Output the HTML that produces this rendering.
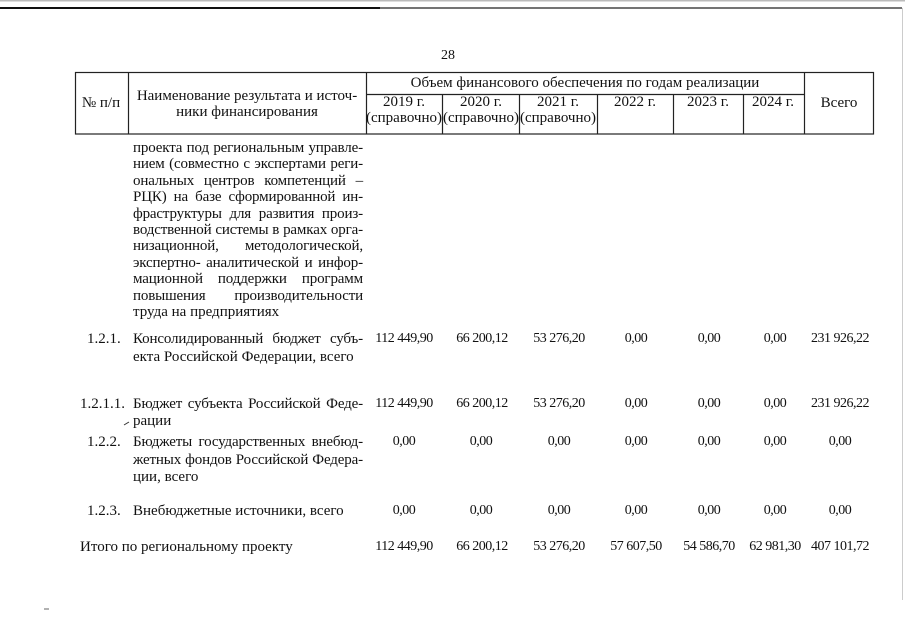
<!DOCTYPE html>
<html><head><meta charset="utf-8">
<style>
html,body{margin:0;padding:0;background:#fff;}
body{width:905px;height:639px;position:relative;overflow:hidden;font-family:"Liberation Serif","DejaVu Serif",serif;color:#111;}
.t{position:absolute;white-space:nowrap;font-size:15px;line-height:16px;}
.c{text-align:center;width:200px;}
.j{position:absolute;left:133px;width:230px;font-size:15px;line-height:16px;display:flex;justify-content:space-between;white-space:nowrap;letter-spacing:-0.15px;}
.n{position:absolute;width:100px;text-align:center;font-size:14px;letter-spacing:-0.5px;line-height:16px;white-space:nowrap;}
</style></head><body>
<svg width="905" height="639" style="position:absolute;left:0;top:0">
  <line x1="0" y1="0.5" x2="905" y2="0.5" stroke="#bbb" stroke-width="2"/>
  <line x1="0" y1="8" x2="380" y2="8" stroke="#111" stroke-width="2"/>
  <line x1="380" y1="8" x2="902" y2="8" stroke="#222" stroke-width="1.3"/>
  <line x1="902.5" y1="8" x2="902.5" y2="600" stroke="#ccc" stroke-width="1"/>
  <g stroke="#222" stroke-width="1.2" fill="none">
    <rect x="75.5" y="72.5" width="798" height="61.5"/>
    <line x1="128.5" y1="72" x2="128.5" y2="134"/>
    <line x1="366.5" y1="72" x2="366.5" y2="134"/>
    <line x1="804.5" y1="72" x2="804.5" y2="134"/>
    <line x1="366" y1="94.5" x2="804" y2="94.5"/>
    <line x1="442.5" y1="94" x2="442.5" y2="134"/>
    <line x1="519.5" y1="94" x2="519.5" y2="134"/>
    <line x1="597.5" y1="94" x2="597.5" y2="134"/>
    <line x1="673.5" y1="94" x2="673.5" y2="134"/>
    <line x1="743.5" y1="94" x2="743.5" y2="134"/>
  </g>
  <path d="M124 425 L129 422" stroke="#333" stroke-width="1"/>
  <line x1="44" y1="609" x2="49" y2="609" stroke="#666" stroke-width="1"/>
</svg>

<div class="t" style="left:441px;top:48px;font-size:14px;">28</div>

<!-- header -->
<div class="t c" style="left:1px;top:95px;">№ п/п</div>
<div class="t c" style="left:117px;top:88px;width:260px;">Наименование результата и источ-</div>
<div class="t c" style="left:117px;top:104px;width:260px;">ники финансирования</div>
<div class="t c" style="left:385px;top:75px;width:400px;">Объем финансового обеспечения по годам реализации</div>
<div class="t c" style="left:304px;top:94px;">2019 г.</div>
<div class="t c" style="left:304px;top:110px;">(справочно)</div>
<div class="t c" style="left:381px;top:94px;">2020 г.</div>
<div class="t c" style="left:381px;top:110px;">(справочно)</div>
<div class="t c" style="left:458px;top:94px;">2021 г.</div>
<div class="t c" style="left:458px;top:110px;">(справочно)</div>
<div class="t c" style="left:535px;top:94px;">2022 г.</div>
<div class="t c" style="left:608px;top:94px;">2023 г.</div>
<div class="t c" style="left:673px;top:94px;">2024 г.</div>
<div class="t c" style="left:739px;top:95px;">Всего</div>

<!-- description -->
<div class="j" style="top:140px;"><span>проекта</span><span>под</span><span>региональным</span><span>управле-</span></div>
<div class="j" style="top:156.4px;"><span>нием</span><span>(совместно</span><span>с</span><span>экспертами</span><span>реги-</span></div>
<div class="j" style="top:172.8px;"><span>ональных</span><span>центров</span><span>компетенций</span><span>–</span></div>
<div class="j" style="top:189.2px;"><span>РЦК)</span><span>на</span><span>базе</span><span>сформированной</span><span>ин-</span></div>
<div class="j" style="top:205.6px;"><span>фраструктуры</span><span>для</span><span>развития</span><span>произ-</span></div>
<div class="j" style="top:222px;"><span>водственной</span><span>системы</span><span>в</span><span>рамках</span><span>орга-</span></div>
<div class="j" style="top:238.4px;"><span>низационной,</span><span>методологической,</span></div>
<div class="j" style="top:254.8px;"><span>экспертно-</span><span>аналитической</span><span>и</span><span>инфор-</span></div>
<div class="j" style="top:271.2px;"><span>мационной</span><span>поддержки</span><span>программ</span></div>
<div class="j" style="top:287.6px;"><span>повышения</span><span>производительности</span></div>
<div class="t" style="left:133px;top:304px;">труда на предприятиях</div>

<!-- 1.2.1 -->
<div class="t" style="left:87px;top:331px;">1.2.1.</div>
<div class="j" style="top:331px;"><span>Консолидированный</span><span>бюджет</span><span>субъ-</span></div>
<div class="t" style="left:133px;top:349px;">екта Российской Федерации, всего</div>

<!-- 1.2.1.1 -->
<div class="t" style="left:80px;top:396px;">1.2.1.1.</div>
<div class="j" style="top:396px;"><span>Бюджет</span><span>субъекта</span><span>Российской</span><span>Феде-</span></div>
<div class="t" style="left:133px;top:413px;">рации</div>

<!-- 1.2.2 -->
<div class="t" style="left:87px;top:434px;">1.2.2.</div>
<div class="j" style="top:434px;"><span>Бюджеты</span><span>государственных</span><span>внебюд-</span></div>
<div class="j" style="top:452px;"><span>жетных</span><span>фондов</span><span>Российской</span><span>Федера-</span></div>
<div class="t" style="left:133px;top:469px;">ции, всего</div>

<!-- 1.2.3 -->
<div class="t" style="left:87px;top:503px;">1.2.3.</div>
<div class="t" style="left:133px;top:503px;">Внебюджетные источники, всего</div>

<!-- total -->
<div class="t" style="left:80px;top:539px;">Итого по региональному проекту</div>

<!-- numbers row 1.2.1 (y=339) -->
<div class="n" style="left:354px;top:331px;">112 449,90</div>
<div class="n" style="left:432px;top:331px;">66 200,12</div>
<div class="n" style="left:509px;top:331px;">53 276,20</div>
<div class="n" style="left:586px;top:331px;">0,00</div>
<div class="n" style="left:659px;top:331px;">0,00</div>
<div class="n" style="left:725px;top:331px;">0,00</div>
<div class="n" style="left:790px;top:331px;">231 926,22</div>

<!-- 1.2.1.1 (y=404) -->
<div class="n" style="left:354px;top:396px;">112 449,90</div>
<div class="n" style="left:432px;top:396px;">66 200,12</div>
<div class="n" style="left:509px;top:396px;">53 276,20</div>
<div class="n" style="left:586px;top:396px;">0,00</div>
<div class="n" style="left:659px;top:396px;">0,00</div>
<div class="n" style="left:725px;top:396px;">0,00</div>
<div class="n" style="left:790px;top:396px;">231 926,22</div>

<!-- 1.2.2 (y=442) -->
<div class="n" style="left:354px;top:434px;">0,00</div>
<div class="n" style="left:431px;top:434px;">0,00</div>
<div class="n" style="left:509px;top:434px;">0,00</div>
<div class="n" style="left:586px;top:434px;">0,00</div>
<div class="n" style="left:659px;top:434px;">0,00</div>
<div class="n" style="left:725px;top:434px;">0,00</div>
<div class="n" style="left:790px;top:434px;">0,00</div>

<!-- 1.2.3 (y=511) -->
<div class="n" style="left:354px;top:503px;">0,00</div>
<div class="n" style="left:431px;top:503px;">0,00</div>
<div class="n" style="left:509px;top:503px;">0,00</div>
<div class="n" style="left:586px;top:503px;">0,00</div>
<div class="n" style="left:659px;top:503px;">0,00</div>
<div class="n" style="left:725px;top:503px;">0,00</div>
<div class="n" style="left:790px;top:503px;">0,00</div>

<!-- total (y=547) -->
<div class="n" style="left:354px;top:539px;">112 449,90</div>
<div class="n" style="left:432px;top:539px;">66 200,12</div>
<div class="n" style="left:509px;top:539px;">53 276,20</div>
<div class="n" style="left:586px;top:539px;">57 607,50</div>
<div class="n" style="left:659px;top:539px;">54 586,70</div>
<div class="n" style="left:725px;top:539px;">62 981,30</div>
<div class="n" style="left:790px;top:539px;">407 101,72</div>
</body></html>
